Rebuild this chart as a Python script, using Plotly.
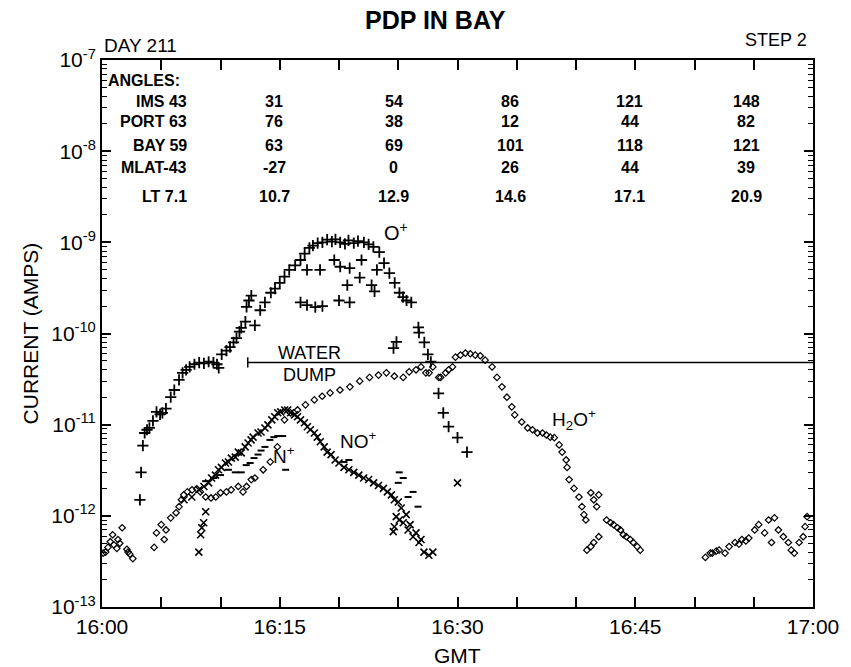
import plotly.graph_objects as go

# Time in minutes after 16:00 GMT, current in amps
O_T = [3.2, 3.3, 3.45, 3.6, 3.8, 4.0, 4.3, 4.6, 4.9, 5.1, 5.4, 5.8, 6.1, 6.5, 6.8, 7.1, 7.4, 7.8,
       8.2, 8.6, 9.0, 9.4, 9.7, 9.85, 10.1, 10.5, 10.8, 11.1, 11.35, 11.6, 11.75, 12.1, 12.2, 12.4,
       12.6, 12.9, 13.35, 13.75, 14.25, 14.6, 15.0, 15.4, 15.8, 16.3, 16.75, 17.1, 17.5, 17.8,
       18.2, 18.6, 19.0, 19.4, 19.7, 20.1, 20.5, 20.8, 21.25, 21.6, 22.1, 22.5, 22.9, 23.4, 23.8,
       24.25, 24.7, 25.1, 25.4, 25.7, 26.1,
       17.3, 18.4, 19.6, 20.1, 20.9, 20.7, 21.75, 21.9, 22.75, 23.0, 16.75, 17.3, 18.0, 18.6,
       20.0, 20.9, 23.2,
       24.6, 24.85, 26.7, 26.75, 27.2, 27.5, 27.75, 28.4, 28.8, 29.25, 30.0, 30.8]
O_I = [1.5e-12, 3.0e-12, 5.9e-12, 8.1e-12, 8.8e-12, 9.2e-12, 1.1e-11, 1.38e-11, 1.3e-11, 1.35e-11,
       1.5e-11, 2.0e-11, 2.4e-11, 3.1e-11, 3.7e-11, 4.0e-11, 4.3e-11, 4.6e-11, 4.8e-11, 4.7e-11,
       4.9e-11, 4.8e-11, 4.6e-11, 4.2e-11, 5.9e-11, 6.5e-11, 7.1e-11, 8.0e-11, 8.9e-11, 1.05e-10,
       1.15e-10, 1.35e-10, 1.96e-10, 2.3e-10, 2.6e-10, 1.23e-10, 1.8e-10, 2.2e-10, 2.8e-10, 3.1e-10,
       3.6e-10, 4.2e-10, 5.0e-10, 5.6e-10, 6.4e-10, 7.5e-10, 8.7e-10, 9.2e-10, 9.8e-10, 1.0e-9,
       1.07e-9, 1.02e-9, 1.08e-9, 1.0e-9, 9.6e-10, 1.05e-9, 9.8e-10, 1.03e-9, 1.0e-9, 9.5e-10,
       8.9e-10, 7.8e-10, 5.9e-10, 4.6e-10, 3.6e-10, 2.8e-10, 2.5e-10, 2.3e-10, 2.2e-10,
       5.0e-10, 5.0e-10, 6.4e-10, 5.4e-10, 5.2e-10, 3.4e-10, 4.1e-10, 6.4e-10, 3.4e-10, 2.9e-10,
       2.2e-10, 2.05e-10, 1.95e-10, 2.0e-10, 2.3e-10, 2.2e-10, 5.0e-10,
       6.9e-11, 8.1e-11, 1.17e-10, 1.02e-10, 8.0e-11, 5.9e-11, 4.9e-11, 2.2e-11, 1.35e-11, 9.5e-12,
       7.2e-12, 5.0e-12]

H2O_T = [0.1, 0.3, 0.5, 0.7, 0.9, 1.0, 1.25, 1.35, 1.5, 1.7, 2.1, 2.2, 2.35, 2.6,
         4.4, 4.6, 5.0, 5.25, 5.4, 5.8, 6.25, 6.5, 6.7, 6.9, 7.2, 7.6, 8.0, 8.3, 8.75, 9.2, 9.6,
         10.0, 10.5, 10.9, 11.5, 11.9, 12.2, 12.6, 12.9, 13.6, 14.2, 14.8, 15.4, 15.9,
         16.5, 17.17, 17.92, 18.58, 19.25, 20.08, 20.92, 21.75, 22.58, 23.33, 24.0, 24.67, 25.42,
         25.92, 26.5, 26.92, 27.33, 27.6, 27.92, 28.42, 28.58, 29.0, 29.25, 29.58, 29.83, 30.25,
         30.67, 31.08, 31.5, 31.92, 32.33, 32.92, 33.33, 33.75, 34.17, 34.58, 34.83, 35.42, 35.92,
         36.33, 36.75, 37.17, 37.5, 37.83, 38.17, 38.58, 38.83, 39.17, 39.25, 39.42, 39.83, 40.25,
         40.5, 40.67, 40.83, 41.25, 41.5, 41.75, 41.92, 42.58, 42.92, 43.17, 43.5, 43.75, 44.0,
         44.25, 44.58, 44.83, 45.17, 45.42, 40.92, 41.25, 41.5, 41.92,
         50.92, 51.33, 51.5, 51.83, 52.08, 52.58, 52.92, 53.42, 53.75, 54.0, 54.33, 54.58, 55.08,
         55.42, 55.92, 56.25, 56.5, 56.75, 57.08, 57.5, 57.92, 58.17, 58.42, 58.83, 59.17, 59.33,
         59.5]
H2O_I = [3.9e-13, 4.0e-13, 4.5e-13, 5.2e-13, 6.2e-13, 4.8e-13, 4.4e-13, 5.5e-13, 5.0e-13, 7.4e-13,
         4.3e-13, 4.0e-13, 3.8e-13, 3.4e-13,
         4.5e-13, 6.5e-13, 8.0e-13, 5.5e-13, 7.0e-13, 9.5e-13, 1.08e-12, 1.26e-12, 1.5e-12, 1.7e-12,
         1.83e-12, 1.93e-12, 1.98e-12, 1.83e-12, 1.61e-12, 1.57e-12, 1.61e-12, 1.79e-12, 1.83e-12,
         1.93e-12, 2.1e-12, 1.83e-12, 2.1e-12, 2.5e-12, 2.6e-12, 3.2e-12, 3.9e-12, 5.7e-12, 1.13e-11,
         1.35e-11,
         1.45e-11, 1.65e-11, 1.87e-11, 2.05e-11, 2.23e-11, 2.4e-11, 2.6e-11, 3.0e-11, 3.3e-11,
         3.5e-11, 3.7e-11, 3.4e-11, 3.3e-11, 3.8e-11, 4.0e-11, 4.3e-11, 3.7e-11, 3.7e-11, 4.3e-11,
         3.3e-11, 3.3e-11, 3.7e-11, 4.0e-11, 4.3e-11, 5.5e-11, 5.8e-11, 6.1e-11, 6.0e-11, 5.8e-11,
         5.7e-11, 5.1e-11, 4.3e-11, 3.3e-11, 2.6e-11, 2.0e-11, 1.57e-11, 1.28e-11, 1.07e-11, 9.2e-12,
         8.8e-12, 8.1e-12, 8.1e-12, 7.7e-12, 7.3e-12, 7.2e-12, 6.0e-12, 5.0e-12, 4.1e-12, 3.4e-12,
         2.5e-12, 2.0e-12, 1.61e-12, 1.26e-12, 1.03e-12, 9.0e-13, 1.79e-12, 1.5e-12, 1.26e-12,
         1.7e-12, 9.0e-13, 8.4e-13, 8.0e-13, 7.4e-13, 7.0e-13, 6.2e-13, 5.9e-13, 5.5e-13, 5.1e-13,
         4.6e-13, 4.2e-13, 4.2e-13, 4.6e-13, 5.1e-13, 5.9e-13,
         3.5e-13, 3.9e-13, 3.9e-13, 4.1e-13, 4.2e-13, 3.9e-13, 4.6e-13, 5.1e-13, 4.9e-13, 5.5e-13,
         5.3e-13, 5.7e-13, 7.0e-13, 8.0e-13, 6.5e-13, 9.0e-13, 5.1e-13, 9.5e-13, 7.0e-13, 5.9e-13,
         5.1e-13, 4.2e-13, 3.9e-13, 5.1e-13, 5.9e-13, 7.6e-13, 9.8e-13]

NO_T = [8.17, 8.33, 8.42, 8.58, 8.75,
        6.92, 7.58, 8.17, 8.6, 9.0, 9.25, 9.58, 9.83, 10.08, 10.42, 10.67, 10.92, 11.25, 11.5,
        11.75, 12.08, 12.33, 12.58, 12.75, 13.17, 13.42, 13.75, 14.0, 14.33, 14.58, 14.83, 15.08,
        15.42, 15.67, 15.92, 16.25, 16.5, 16.75, 17.08, 17.33, 17.58, 17.92, 18.17, 18.42, 18.75,
        19.0, 19.33, 19.67, 20.0, 20.42, 20.83, 21.25, 21.67, 22.08, 22.5, 22.92, 23.33, 23.75,
        24.08, 24.42, 24.67, 25.0, 25.25, 24.83, 24.67, 24.58, 25.08, 25.42, 25.67, 25.83, 26.0,
        26.25, 26.5, 26.75, 26.92, 27.17, 27.58, 27.92, 30.0]
NO_I = [4.0e-13, 6.2e-13, 7.4e-13, 8.4e-13, 1.11e-12,
        1.5e-12, 1.61e-12, 1.93e-12, 2.1e-12, 2.3e-12, 2.6e-12, 2.8e-12, 3.2e-12, 3.4e-12, 3.8e-12,
        3.9e-12, 4.3e-12, 4.4e-12, 5.0e-12, 4.9e-12, 5.7e-12, 6.3e-12, 6.8e-12, 7.3e-12, 8.1e-12,
        8.3e-12, 9.2e-12, 9.96e-12, 1.13e-11, 1.22e-11, 1.35e-11, 1.38e-11, 1.45e-11, 1.45e-11,
        1.35e-11, 1.28e-11, 1.22e-11, 1.13e-11, 1.05e-11, 9.5e-12, 8.8e-12, 8.1e-12, 7.3e-12,
        6.5e-12, 5.7e-12, 5.0e-12, 4.7e-12, 4.1e-12, 3.8e-12, 3.4e-12, 3.2e-12, 3.0e-12, 2.8e-12,
        2.6e-12, 2.5e-12, 2.3e-12, 2.15e-12, 2.0e-12, 1.83e-12, 1.7e-12, 1.5e-12, 1.42e-12,
        1.22e-12, 9.8e-13, 7.6e-13, 6.7e-13, 9.0e-13, 8.4e-13, 1.03e-12, 7.0e-13, 8.0e-13, 5.9e-13,
        6.5e-13, 5.1e-13, 5.5e-13, 4.0e-13, 3.7e-13, 4.0e-13, 2.3e-12]

N_T = [8.75, 9.42, 10.0, 10.67, 11.25, 11.75, 12.17, 12.5, 12.83, 13.17, 13.42, 13.75, 14.17, 14.5,
       14.83, 15.25, 15.5, 20.42, 20.83, 25.08, 25.42, 25.0, 26.25, 25.83, 26.67]
N_I = [2.4e-12, 2.6e-12, 2.8e-12, 3.2e-12, 3.0e-12, 3.0e-12, 3.6e-12, 3.8e-12, 4.3e-12, 4.7e-12,
       5.2e-12, 5.7e-12, 6.8e-12, 7.3e-12, 7.5e-12, 7.5e-12, 3.2e-12, 3.9e-12, 4.1e-12, 3.0e-12,
       2.6e-12, 2.3e-12, 1.83e-12, 1.61e-12, 1.26e-12]

# water dump marker
DUMP_START = 12.3
DUMP_END = 60
DUMP_LEVEL = 4.8e-11

# angle table
ANGLE_LABELS = ["IMS 43", "PORT 63", "BAY 59", "MLAT-43", "LT 7.1"]
IMS = ["31", "54", "86", "121", "148"]
PORT = ["76", "38", "12", "44", "82"]
BAY = ["63", "69", "101", "118", "121"]
MLAT = ["-27", "0", "26", "44", "39"]
LT = ["10.7", "12.9", "14.6", "17.1", "20.9"]

X_TICKS = [0, 15, 30, 45, 60]
X_LABELS = ["16:00", "16:15", "16:30", "16:45", "17:00"]
Y_EXPS = [-13, -12, -11, -10, -9, -8, -7]

FONT = "Liberation Sans Narrow, Arial Narrow, Liberation Sans, Arial"

fig = go.Figure()

fig.add_trace(go.Scatter(x=H2O_T, y=H2O_I, mode="markers", name="H2O+",
                         marker=dict(symbol="diamond-open", size=5, color="black",
                                     line=dict(width=1.2, color="black"))))
fig.add_trace(go.Scatter(x=O_T, y=O_I, mode="markers", name="O+",
                         marker=dict(symbol="cross-thin-open", size=8, color="black",
                                     line=dict(width=1.8, color="black"))))
fig.add_trace(go.Scatter(x=NO_T, y=NO_I, mode="markers", name="NO+",
                         marker=dict(symbol="x-thin-open", size=7, color="black",
                                     line=dict(width=1.6, color="black"))))
fig.add_trace(go.Scatter(x=N_T, y=N_I, mode="markers", name="N+",
                         marker=dict(symbol="line-ew-open", size=5, color="black",
                                     line=dict(width=2, color="black"))))

# water dump bar with end tick
fig.add_trace(go.Scatter(x=[DUMP_START, DUMP_END], y=[DUMP_LEVEL, DUMP_LEVEL], mode="lines",
                         line=dict(color="black", width=1.5), hoverinfo="skip"))
fig.add_trace(go.Scatter(x=[DUMP_START, DUMP_START], y=[DUMP_LEVEL * 0.88, DUMP_LEVEL * 1.14],
                         mode="lines", line=dict(color="black", width=1.5), hoverinfo="skip"))

fig.update_xaxes(
    range=[0, 60], tickvals=X_TICKS, ticktext=X_LABELS,
    ticks="inside", ticklen=10, tickwidth=1.5, tickcolor="black",
    minor=dict(dtick=5, ticks="inside", ticklen=10, tickwidth=1.5, tickcolor="black"),
    showline=True, linecolor="black", linewidth=2, mirror="allticks",
    showgrid=False, zeroline=False,
    tickfont=dict(family=FONT, size=21, color="black"),
)
fig.update_yaxes(
    type="log", range=[-13, -7],
    tickvals=[10.0 ** e for e in Y_EXPS],
    ticktext=["10<sup>%d</sup>" % e for e in Y_EXPS],
    ticks="inside", ticklen=9, tickwidth=1.5, tickcolor="black",
    minor=dict(ticks="inside", ticklen=5, tickwidth=1, tickcolor="black", dtick="D1"),
    showline=True, linecolor="black", linewidth=2, mirror="allticks",
    showgrid=False, zeroline=False,
    tickfont=dict(family=FONT, size=21, color="black"),
)

ann = []
def txt(x, y, s, size=17, xanchor="center", bold=True, **kw):
    ann.append(dict(x=x, y=y, xref="paper", yref="paper", text=s, showarrow=False,
                    xanchor=xanchor, yanchor="middle",
                    font=dict(family=FONT, size=size, color="black",
                              weight="bold" if bold else "normal"), **kw))

# headings
txt(0.469, 1.073, "PDP IN BAY", size=25)
txt(0.0, 1.027, "DAY 211", size=19, xanchor="left", bold=False)
txt(0.995, 1.037, "STEP 2", size=18, xanchor="right", bold=False)
txt(0.5, -0.088, "GMT", size=21, bold=False)
txt(-0.1, 0.5, "CURRENT (AMPS)", size=21, bold=False, textangle=-90)

# angle table
txt(0.006, 0.963, "ANGLES:", size=16, xanchor="left")
row_y = [0.925, 0.887, 0.843, 0.803, 0.751]
col_x = [0.242, 0.410, 0.574, 0.742, 0.906]
for lab, vals, ry in zip(ANGLE_LABELS, [IMS, PORT, BAY, MLAT, LT], row_y):
    txt(0.122, ry, lab, size=16, xanchor="right")
    for v, cx in zip(vals, col_x):
        txt(cx, ry, v, size=16)

# curve labels
txt(0.414, 0.686, "O<sup>+</sup>", size=20, bold=False)
txt(0.292, 0.464, "WATER", size=18, bold=False)
txt(0.292, 0.424, "DUMP", size=18, bold=False)
txt(0.361, 0.305, "NO<sup>+</sup>", size=19, bold=False)
txt(0.256, 0.278, "N<sup>+</sup>", size=19, bold=False)
txt(0.664, 0.342, "H<sub>2</sub>O<sup>+</sup>", size=19, bold=False)

fig.update_layout(
    width=851, height=667,
    margin=dict(l=102, r=29, t=60, b=60),
    paper_bgcolor="white", plot_bgcolor="white",
    showlegend=False, annotations=ann,
)

fig.write_html("out.html", config={"displayModeBar": False},
               post_script="document.body.style.margin='0';")
